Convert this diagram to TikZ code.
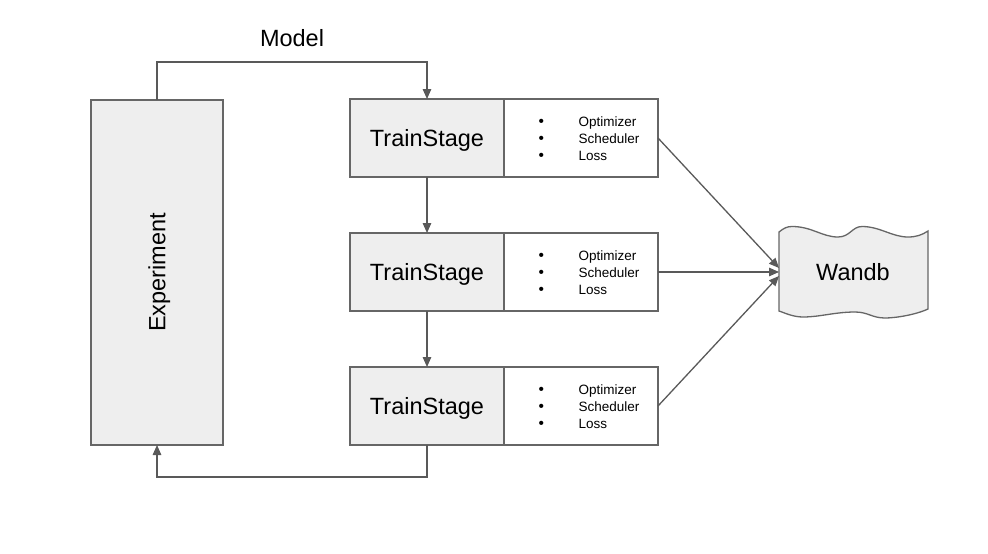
\documentclass[tikz,border=0pt]{standalone}
\usepackage{fontspec}
\setmainfont{Liberation Sans}
\usetikzlibrary{arrows.meta}
\definecolor{boxfill}{HTML}{EEEEEE}
\definecolor{edgec}{HTML}{666666}
\definecolor{arrowc}{HTML}{595959}
\newcommand{\bul}{\raisebox{-0.4pt}[0pt][0pt]{\fontsize{15.5}{17}\selectfont •}}
\begin{document}
\begin{tikzpicture}[x=1pt,y=-1pt,
  box/.style={draw=edgec,line width=1.3pt,fill=boxfill,inner sep=0pt,outer sep=0pt},
  lst/.style={draw=edgec,line width=1.3pt,fill=white,inner sep=0pt,outer sep=0pt},
  big/.style={font=\fontsize{23.5}{28}\selectfont,text height=16.8pt,text depth=0pt},
  small/.style={font=\fontsize{13.5}{17}\selectfont,inner sep=0pt},
  arr/.style={draw=arrowc,line width=1.3pt,-{Triangle[length=10pt,width=8.5pt]}}]
\useasboundingbox (0,0) rectangle (988,554);
% Experiment
\node[box,font=\fontsize{23.5}{28}\selectfont,minimum width=132pt,minimum height=345pt] (exp) at (157,272.5) {\rotatebox{90}{\raisebox{0pt}[16.8pt][0pt]{Experiment}}};
% Train stages
\foreach \i/\y in {1/138,2/272,3/406} {
  \node[box,big,minimum width=154pt,minimum height=78pt] (ts\i) at (427,\y) {TrainStage};
  \node[lst,minimum width=154pt,minimum height=78pt] (ls\i) at (581,\y) {};
  \node[small,anchor=west] (lt\i) at (538.5,\y+2) {\begin{tabular}{@{}l@{\hspace{34.5pt}}l@{}}\bul&Optimizer\\\bul&Scheduler\\\bul&Loss\end{tabular}};
}
% Wandb
\path[box] (779,232) .. controls (784,228) and (787,226.5) .. (792,226.5)
  .. controls (812,226.5) and (822,237) .. (838,237)
  .. controls (850,237) and (852,226.5) .. (862,226.5)
  .. controls (880,226.5) and (892,237) .. (908,237)
  .. controls (916,237) and (922,235) .. (928,231)
  -- (928,309)
  .. controls (915,315) and (895,318) .. (885,318)
  .. controls (872,318) and (868,312) .. (855,312)
  .. controls (835,312) and (820,317) .. (803,317)
  .. controls (793,317) and (785,313) .. (779,311)
  -- cycle;
\node[big] (wandb) at (853,272) {Wandb};
\coordinate (w1) at (779,268);
\coordinate (w2) at (779,272);
\coordinate (w3) at (779,276);
% Model label
\node[big] (model) at (292,38.5) {Model};
% connectors
\draw[arr] (exp.north) -- ++(0,-38) -| (ts1.north);
\draw[arr] (ts1.south) -- (ts2.north);
\draw[arr] (ts2.south) -- (ts3.north);
\draw[arr] (ts3.south) -- ++(0,32) -| (exp.south);
\draw[arr] (ls1.east) -- (w1);
\draw[arr] (ls2.east) -- (w2);
\draw[arr] (ls3.east) -- (w3);
\end{tikzpicture}
\end{document}
